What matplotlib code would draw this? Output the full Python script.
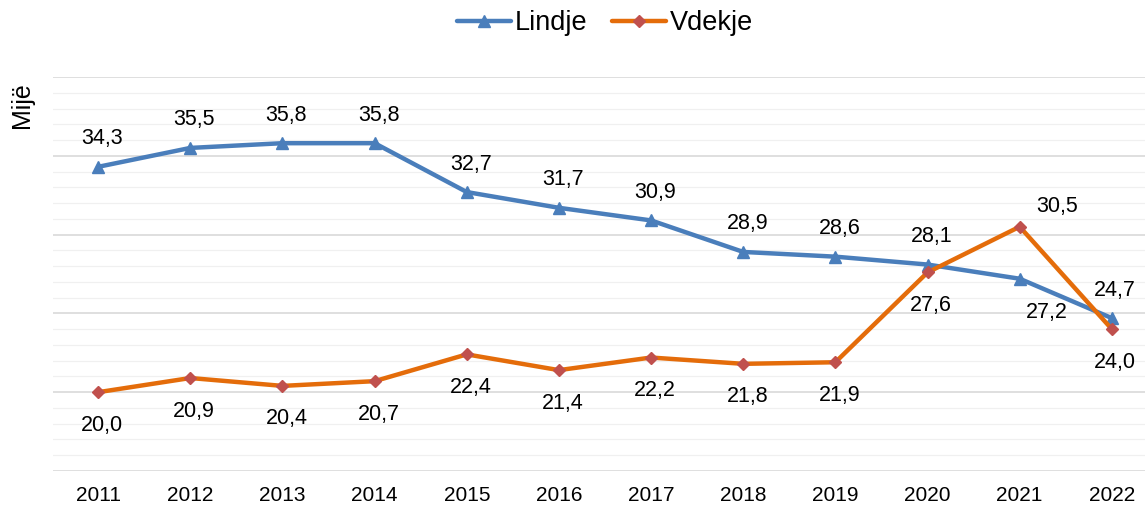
import matplotlib.pyplot as plt
from matplotlib.ticker import MultipleLocator, NullFormatter

plt.rcParams['font.family'] = ['Liberation Sans', 'DejaVu Sans']

years = ['2011', '2012', '2013', '2014', '2015', '2016', '2017', '2018', '2019', '2020', '2021', '2022']
lindje = [34.3, 35.5, 35.8, 35.8, 32.7, 31.7, 30.9, 28.9, 28.6, 28.1, 27.2, 24.7]
vdekje = [20.0, 20.9, 20.4, 20.7, 22.4, 21.4, 22.2, 21.8, 21.9, 27.6, 30.5, 24.0]

# label offsets in pixels (dx, dy), positive dy = up
lindje_off = [(4, 28)] * 10 + [(27, -34), (3, 28)]
vdekje_off = [(4, -33)] * 9 + [(3, -33), (37, 20), (3, -33)]

blue = '#4A7EBB'
orange = '#E46C0A'
red = '#C0504D'

fig = plt.figure(figsize=(11.45, 5.05), dpi=100)
ax = fig.add_axes([53 / 1145, 1 - 471 / 505, 1 - 53 / 1145, (471 - 77) / 505])

x = list(range(len(years)))
ax.plot(x, lindje, color=blue, lw=3.2, marker='^', ms=8.5,
        mfc=blue, mec=blue, label='Lindje', zorder=3, solid_capstyle='round')
ax.plot(x, vdekje, color=orange, lw=3.2, marker='D', ms=6.5,
        mfc=red, mec=red, label='Vdekje', zorder=4, solid_capstyle='round')

for i in x:
    ax.annotate(f"{lindje[i]:.1f}".replace('.', ','), (i, lindje[i]),
                xytext=lindje_off[i], textcoords='offset pixels',
                ha='center', va='center', fontsize=15.5)
    ax.annotate(f"{vdekje[i]:.1f}".replace('.', ','), (i, vdekje[i]),
                xytext=vdekje_off[i], textcoords='offset pixels',
                ha='center', va='center', fontsize=15.5)

ax.set_xlim(-0.49, 11.36)
ax.set_ylim(15, 40)
ax.yaxis.set_major_locator(MultipleLocator(5))
ax.yaxis.set_minor_locator(MultipleLocator(1))
ax.yaxis.set_major_formatter(NullFormatter())
ax.grid(True, which='major', axis='y', color='#D9D9D9', lw=1.2)
ax.grid(True, which='minor', axis='y', color='#F0F0F0', lw=0.9)
ax.set_axisbelow(True)
ax.set_xticks(x)
ax.set_xticklabels(years, fontsize=15)
ax.tick_params(axis='y', which='both', length=0)
ax.tick_params(axis='x', length=0, pad=11)
for s in ax.spines.values():
    s.set_visible(False)

fig.text(22 / 1145, 1 - 105 / 505, 'Mijë', rotation=90, ha='center', va='center', fontsize=18)

fig.legend(loc='center', bbox_to_anchor=(605 / 1145, 1 - 23 / 505), ncol=2, frameon=False,
           fontsize=19.5, handlelength=2.0, handletextpad=0.15, columnspacing=0.9)

fig.savefig('out.png', dpi=100)
